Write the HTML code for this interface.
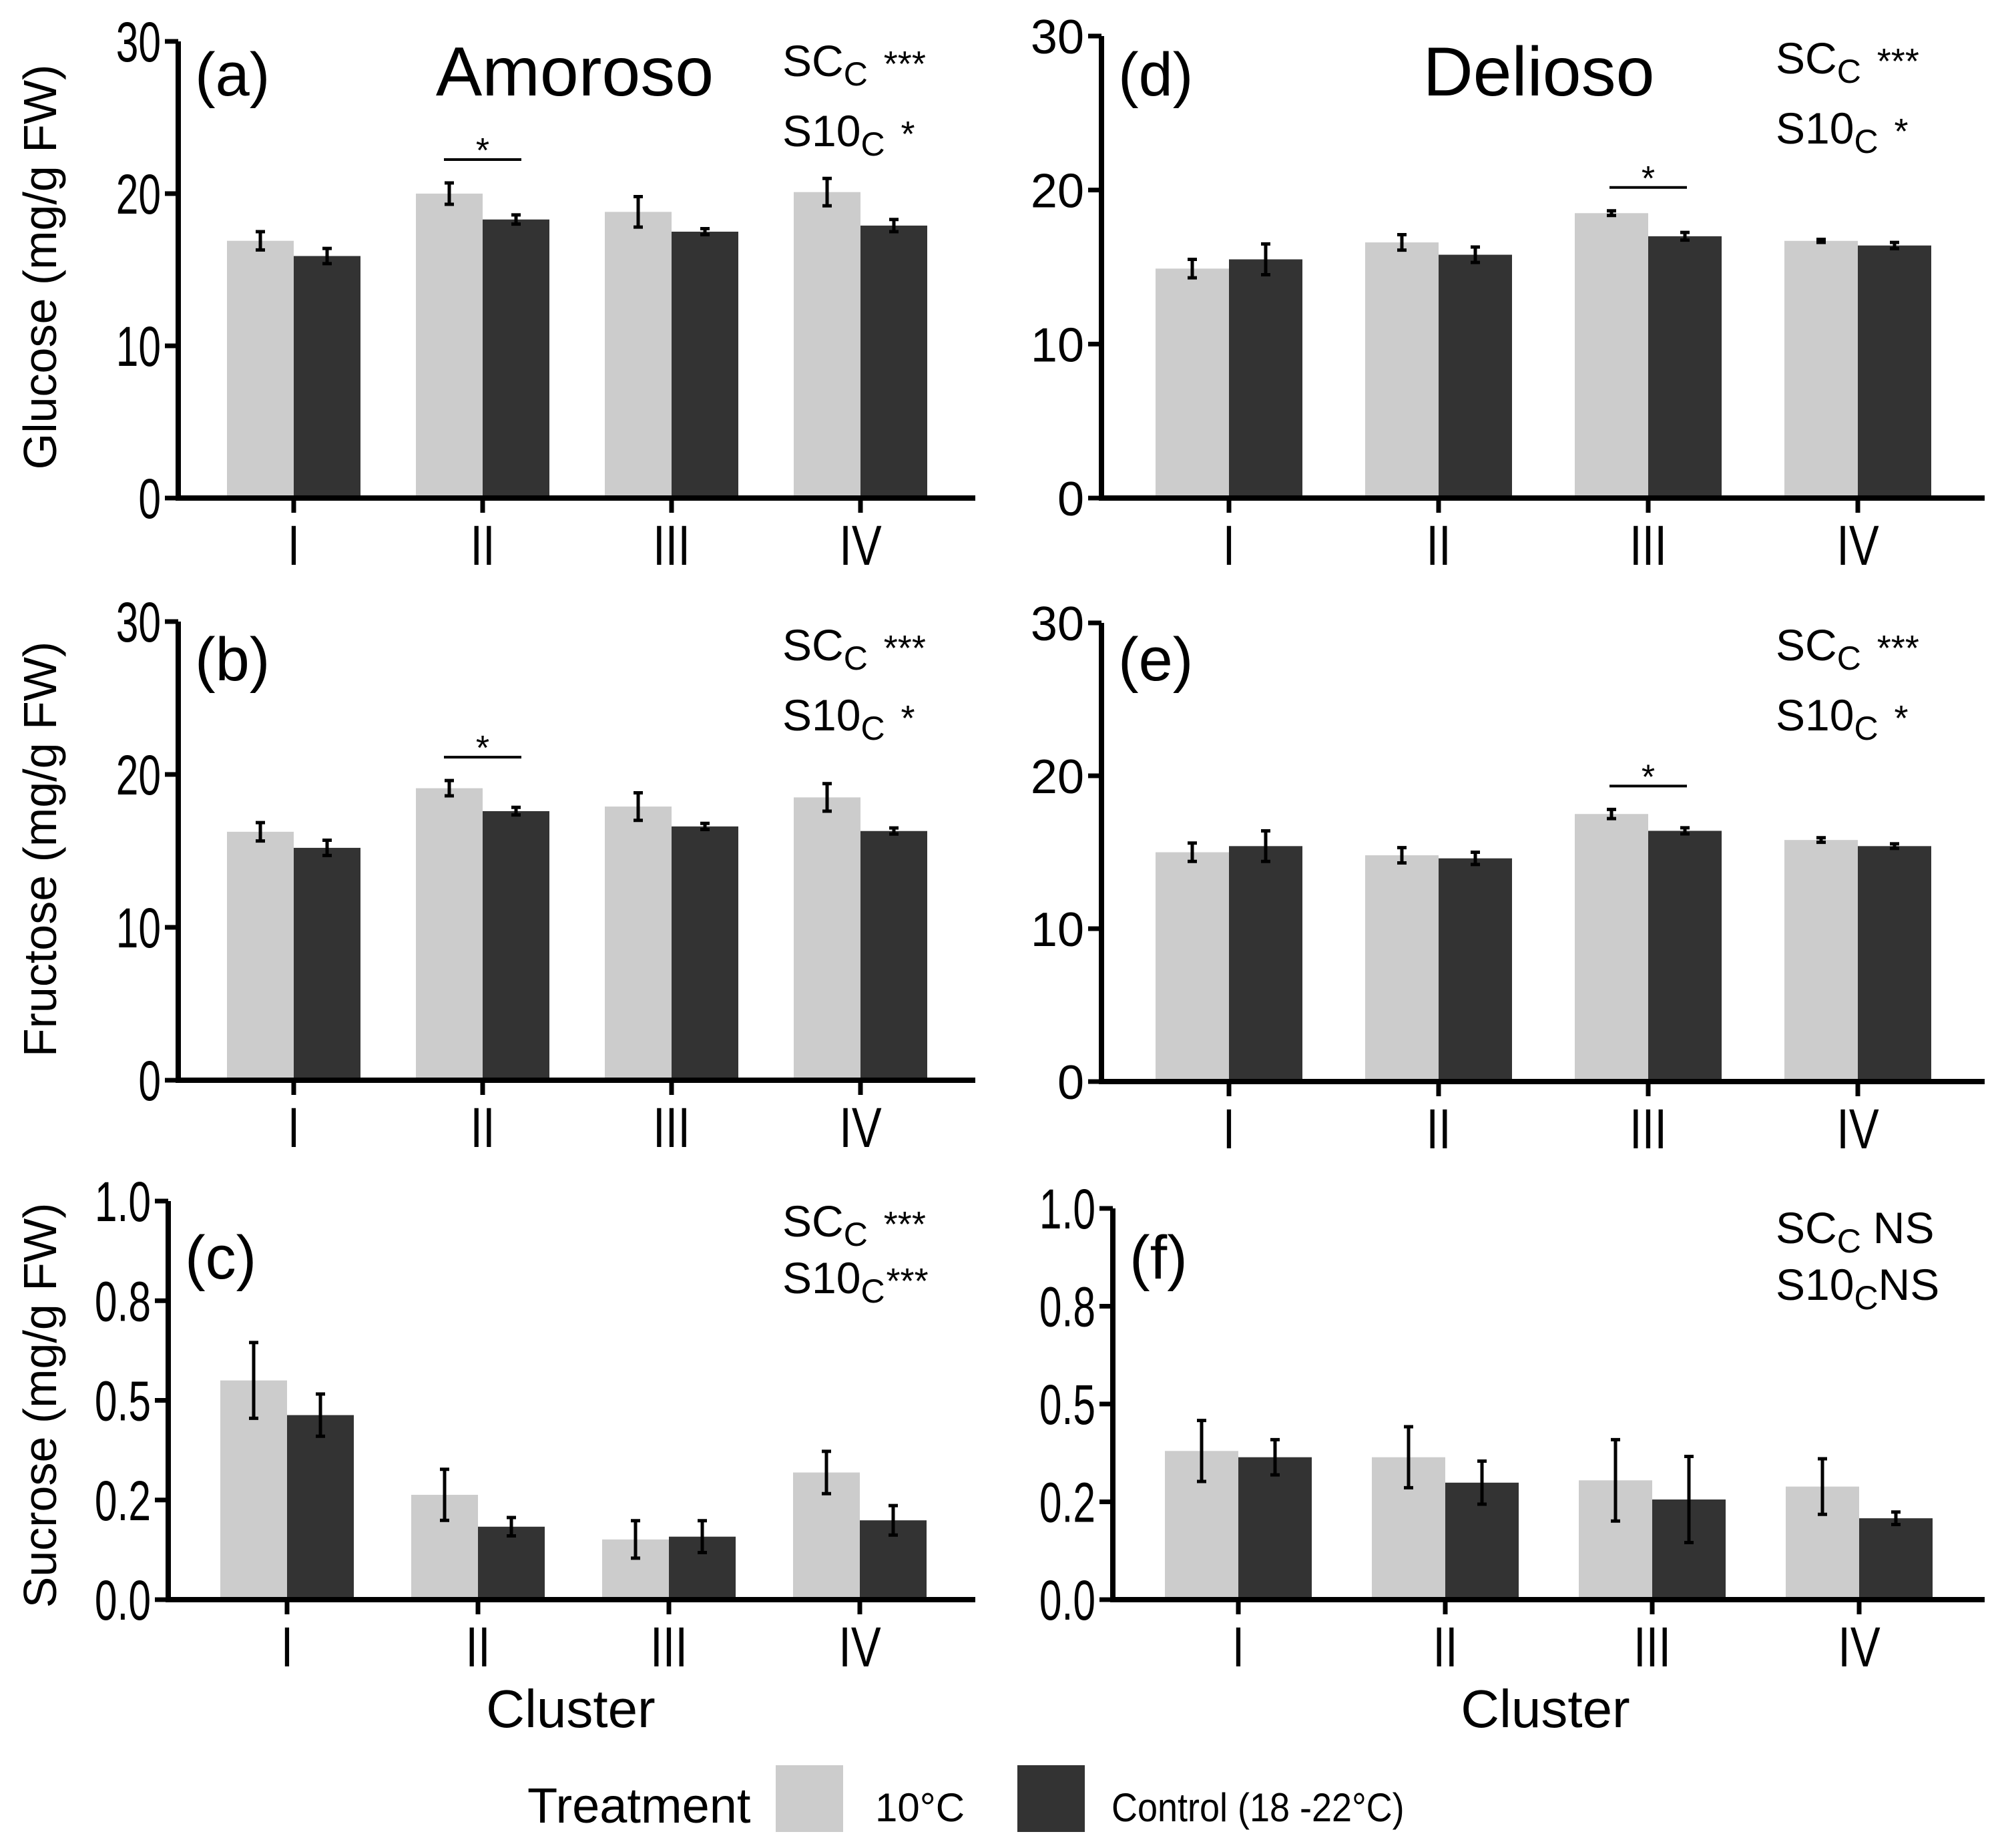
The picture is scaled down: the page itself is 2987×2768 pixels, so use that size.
<!DOCTYPE html>
<html><head><meta charset="utf-8"><style>
html,body{margin:0;padding:0;background:#fff;}
svg{display:block;font-family:"Liberation Sans",Arial,sans-serif;}
</style></head><body>
<svg id="chart" width="2987" height="2768" viewBox="0 0 2987 2768" xmlns="http://www.w3.org/2000/svg"></svg>
<script>
const categories = ["I","II","III","IV"];
const glucoseAmoroso10 = [16.9, 20.0, 18.8, 20.1];
const glucoseAmorosoCtl = [15.9, 18.3, 17.5, 17.9];
const glucoseAmoroso10Err = [0.6, 0.7, 1.0, 0.9];
const glucoseAmorosoCtlErr = [0.5, 0.3, 0.2, 0.4];
const fructoseAmoroso10 = [16.25, 19.1, 17.9, 18.5];
const fructoseAmorosoCtl = [15.2, 17.6, 16.6, 16.3];
const fructoseAmoroso10Err = [0.6, 0.5, 0.9, 0.9];
const fructoseAmorosoCtlErr = [0.5, 0.25, 0.2, 0.2];
const sucroseAmoroso10 = [0.55, 0.263, 0.151, 0.319];
const sucroseAmorosoCtl = [0.463, 0.183, 0.158, 0.199];
const sucroseAmoroso10Err = [0.095, 0.064, 0.047, 0.053];
const sucroseAmorosoCtlErr = [0.053, 0.023, 0.04, 0.037];
const glucoseDelioso10 = [14.9, 16.6, 18.5, 16.7];
const glucoseDeliosoCtl = [15.5, 15.8, 17.0, 16.4];
const glucoseDelioso10Err = [0.6, 0.5, 0.15, 0.1];
const glucoseDeliosoCtlErr = [1.0, 0.5, 0.25, 0.2];
const fructoseDelioso10 = [15.0, 14.8, 17.5, 15.8];
const fructoseDeliosoCtl = [15.4, 14.6, 16.4, 15.4];
const fructoseDelioso10Err = [0.6, 0.5, 0.3, 0.15];
const fructoseDeliosoCtlErr = [1.0, 0.4, 0.2, 0.15];
const sucroseDelioso10 = [0.38, 0.364, 0.305, 0.289];
const sucroseDeliosoCtl = [0.364, 0.299, 0.256, 0.208];
const sucroseDelioso10Err = [0.078, 0.078, 0.104, 0.071];
const sucroseDeliosoCtlErr = [0.045, 0.055, 0.11, 0.016];
const sugarTicks = [0, 10, 20, 30];
const sugarTickLabels = ["0","10","20","30"];
const sucroseTicks = [0, 0.25, 0.5, 0.75, 1.0];
const sucroseTickLabels = ["0.0","0.2","0.5","0.8","1.0"];

const NS = "http://www.w3.org/2000/svg";
const svg = document.getElementById("chart");
function mk(tag, attrs, parent, text){
  const e = document.createElementNS(NS, tag);
  for (const k in attrs) e.setAttribute(k, attrs[k]);
  if (text !== undefined) e.textContent = text;
  (parent||svg).appendChild(e);
  return e;
}

const panels = [
 {id:"a", ax:267, ax2:1461, y0:746, yTop:62, max:30, c0:440, step:283, bw:100, v10:glucoseAmoroso10, vc:glucoseAmorosoCtl, e10:glucoseAmoroso10Err, ec:glucoseAmorosoCtlErr, ticks:sugarTicks, tl:sugarTickLabels, fs:84, sx:0.72, sig:[1,"***","*"], sigY:[114,219], sigX:1172, lblY:143, title:"Amoroso", titleX:861, bracket:1},
 {id:"b", ax:267, ax2:1461, y0:1618, yTop:931, max:30, c0:440, step:283, bw:100, v10:fructoseAmoroso10, vc:fructoseAmorosoCtl, e10:fructoseAmoroso10Err, ec:fructoseAmorosoCtlErr, ticks:sugarTicks, tl:sugarTickLabels, fs:84, sx:0.72, sig:[1,"***","*"], sigY:[989,1094], sigX:1172, lblY:1019, bracket:1},
 {id:"c", ax:252, ax2:1461, y0:2396, yTop:1799, max:1, c0:430, step:286, bw:100, v10:sucroseAmoroso10, vc:sucroseAmorosoCtl, e10:sucroseAmoroso10Err, ec:sucroseAmorosoCtlErr, ticks:sucroseTicks, tl:sucroseTickLabels, fs:84, sx:0.72, sig:[1,"***","***"], sigY:[1852,1937], sigX:1172, lblY:1915, bracket:-1, cluster:855},
 {id:"d", ax:1650, ax2:2973, y0:746, yTop:54, max:30, c0:1841, step:314, bw:110, v10:glucoseDelioso10, vc:glucoseDeliosoCtl, e10:glucoseDelioso10Err, ec:glucoseDeliosoCtlErr, ticks:sugarTicks, tl:sugarTickLabels, fs:72, sx:1, sig:[0,"***","*"], sigY:[110,215], sigX:2660, lblY:143, title:"Delioso", titleX:2305, bracket:2},
 {id:"e", ax:1650, ax2:2973, y0:1620, yTop:933, max:30, c0:1841, step:314, bw:110, v10:fructoseDelioso10, vc:fructoseDeliosoCtl, e10:fructoseDelioso10Err, ec:fructoseDeliosoCtlErr, ticks:sugarTicks, tl:sugarTickLabels, fs:72, sx:1, sig:[0,"***","*"], sigY:[989,1094], sigX:2660, lblY:1019, bracket:2},
 {id:"f", ax:1667, ax2:2973, y0:2396, yTop:1810, max:1, c0:1855, step:310, bw:110, v10:sucroseDelioso10, vc:sucroseDeliosoCtl, e10:sucroseDelioso10Err, ec:sucroseDeliosoCtlErr, ticks:sucroseTicks, tl:sucroseTickLabels, fs:84, sx:0.72, sig:[2,"NS","NS"], sigY:[1862,1947], sigX:2660, lblY:1915, bracket:-1, cluster:2315}
];

function drawPanel(p){
  const g = mk("g", {});
  
  
  const yS = v => p.y0 - (v / p.max) * (p.y0 - p.yTop);
  const xS = i => p.c0 + i * p.step;
  categories.forEach((c, i) => {
    const x = xS(i);
    const b1 = mk("rect", {x:x - p.bw, y:yS(p.v10[i]), width:p.bw, height:p.y0 - yS(p.v10[i]), fill:"#cccccc"}, g);
    
    
    const b2 = mk("rect", {x:x, y:yS(p.vc[i]), width:p.bw, height:p.y0 - yS(p.vc[i]), fill:"#333333"}, g);
    
    
    [[x - p.bw/2, p.v10[i], p.e10[i]], [x + p.bw/2, p.vc[i], p.ec[i]]].forEach(([cx, v, e]) => {
      const eb = mk("path", {d:`M${cx-7},${yS(v+e)}H${cx+7}M${cx},${yS(v+e)}V${yS(v-e)}M${cx-7},${yS(v-e)}H${cx+7}`, stroke:"#000", "stroke-width":5, fill:"none"}, g);
      
      
    });
    mk("line", {x1:x, x2:x, y1:p.y0, y2:p.y0 + 22, stroke:"#000", "stroke-width":7}, g);
    const tl = mk("text", {x:x, y:p.y0 + 100, "text-anchor":"middle", "font-size":84, transform:`translate(${x},0) scale(0.8,1) translate(${-x},0)`}, g, c);
    
    
  });
  const axl = mk("path", {d:`M${p.ax},${p.yTop}V${p.y0}H${p.ax2}`, stroke:"#000", "stroke-width":8, fill:"none"}, g);
  
  
  p.ticks.forEach((t, i) => {
    const y = yS(t);
    mk("line", {x1:p.ax - 20, x2:p.ax, y1:y, y2:y, stroke:"#000", "stroke-width":7}, g);
    const tx = p.ax - 26;
    const lab = mk("text", {x:tx, y:y + p.fs*0.36, "text-anchor":"end", "font-size":p.fs, transform:`translate(${tx},0) scale(${p.sx},1) translate(${-tx},0)`}, g, p.tl[i]);
    
    
  });
  const pl = mk("text", {x:p.ax + 25, y:p.lblY, "font-size":92}, g, "(" + p.id + ")");
  
  
  if (p.title){
    const t = mk("text", {x:p.titleX, y:p.lblY, "text-anchor":"middle", "font-size":104}, g, p.title);
    
    
  }
  const lines = [["SC", p.sig[1]], ["S10", p.sig[2]]];
  lines.forEach(([pre, mark], j) => {
    const t = mk("text", {x:p.sigX, y:p.sigY[j], "font-size":66}, g);
    
    
    mk("tspan", {}, t, pre);
    mk("tspan", {dy:14, "font-size":50}, t, "C");
    let gap = 24;
    if (p.id === "f") gap = (pre === "SC") ? 18 : 0;
    if (p.id === "c" && pre === "S10") gap = 2;
    mk("tspan", {dy:-14, dx:gap, "font-size": mark === "NS" ? 66 : 54}, t, mark);
  });
  if (p.bracket >= 0){
    const x = xS(p.bracket);
    const yb = Math.min(yS(p.v10[p.bracket] + p.e10[p.bracket]), yS(p.vc[p.bracket]+p.ec[p.bracket])) - 35;
    const br = mk("line", {x1:x - 58, x2:x + 58, y1:yb, y2:yb, stroke:"#000", "stroke-width":4}, g);
    
    
    mk("text", {x:x, y:yb + 4, "text-anchor":"middle", "font-size":52}, g, "*");
  }
  if (p.cluster){
    const cl = mk("text", {x:p.cluster, y:2587, "text-anchor":"middle", "font-size":80}, g, "Cluster");
    
    
  }
}
panels.forEach(drawPanel);

[["Glucose (mg/g FW)", 400], ["Fructose (mg/g FW)", 1272], ["Sucrose (mg/g FW)", 2105]].forEach(([t, cy]) => {
  const e = mk("text", {x:0, y:0, "text-anchor":"middle", "font-size":70, transform:`translate(84,${cy}) rotate(-90)`}, svg, t);
  
  
});

const lg = mk("g", {});


const lt = mk("text", {x:790, y:2730, "font-size":74}, lg, "Treatment");


const k1 = mk("rect", {x:1162, y:2644, width:101, height:100, fill:"#cccccc"}, lg);


const t1 = mk("text", {x:1311, y:2728, "font-size":60}, lg, "10°C");


const k2 = mk("rect", {x:1524, y:2644, width:101, height:100, fill:"#333333"}, lg);


const t2 = mk("text", {x:1665, y:2728, "font-size":60, transform:"translate(1665,0) scale(0.9,1) translate(-1665,0)"}, lg, "Control (18 -22°C)");


</script>
</body></html>
